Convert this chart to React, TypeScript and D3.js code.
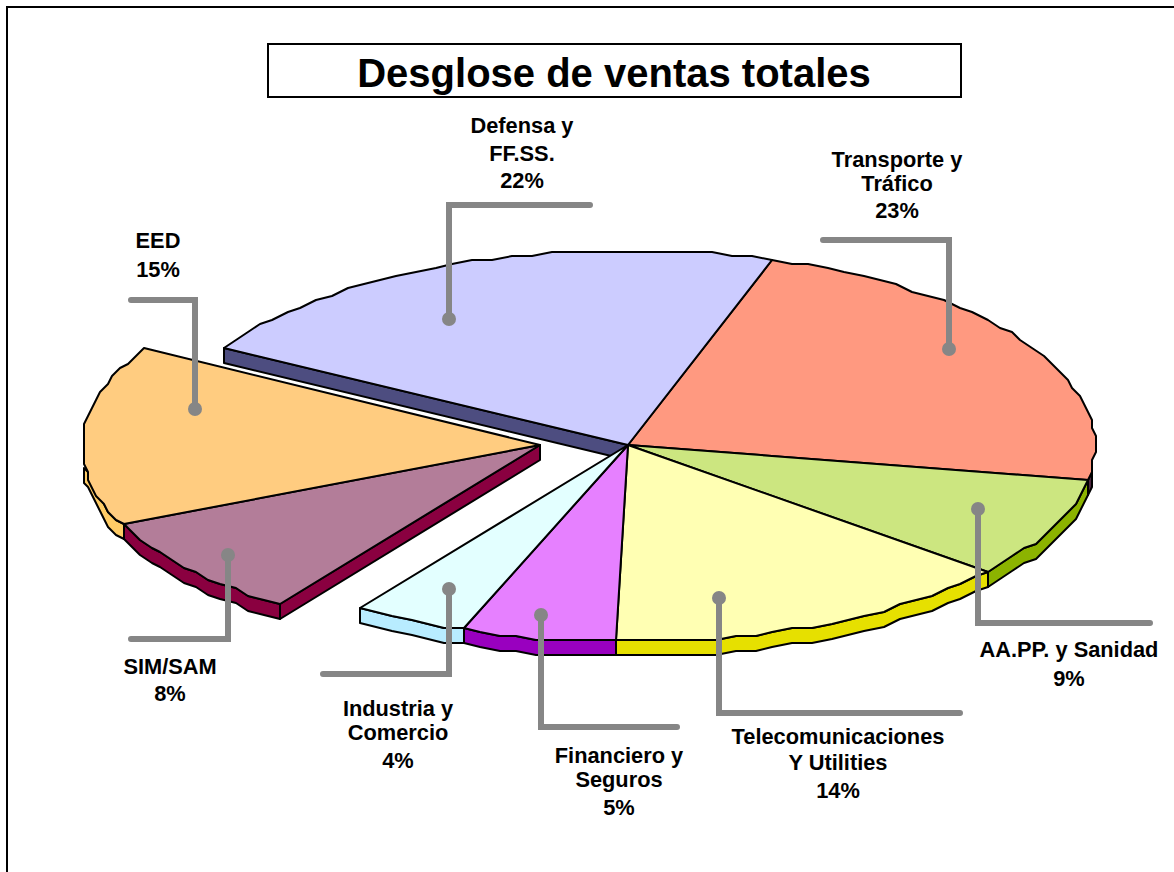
import React from 'react';
import * as d3 from 'd3';

// Data
const categories = [
  'Transporte',
  'AA.PP.',
  'Telecom',
  'Financiero',
  'Industria',
  'SIM/SAM',
  'EED',
  'Defensa',
];
const shares = [22.7, 8.3, 14.5, 5.3, 3.9, 8.5, 15.3, 21.5];
const labelLines = [
  ['Transporte y', 'Tráfico', '23%'],
  ['AA.PP. y Sanidad', '9%'],
  ['Telecomunicaciones', 'Y Utilities', '14%'],
  ['Financiero y', 'Seguros', '5%'],
  ['Industria y', 'Comercio', '4%'],
  ['SIM/SAM', '8%'],
  ['EED', '15%'],
  ['Defensa y', 'FF.SS.', '22%'],
];
const titleText = 'Desglose de ventas totales';

// Styling, by category
const topColors = ['#ff9980', '#cce680', '#ffffb3', '#e680ff', '#e3ffff', '#b37d99', '#ffcc80', '#ccccff'];
const rimColors = ['#4d2640', '#8cb300', '#e6e000', '#9900bf', '#b8ecff', '#8a0040', '#ffcc66', '#4d4d80'];
const exploded = ['SIM/SAM', 'EED'];

// Callout layout: label centre x, baselines, leader path
const labelX = [897, 1069, 838, 619, 398, 170, 158, 522];
const labelY = [
  [167, 191, 218],
  [657, 686],
  [744, 770, 798],
  [763, 787, 815],
  [716, 740, 768],
  [674, 701],
  [248, 277],
  [133, 161, 188],
];
const leaders: [number, number][][] = [
  [[823, 240], [949, 240], [949, 349]],
  [[1150, 623], [978, 623], [978, 509]],
  [[960, 713], [719, 713], [719, 598]],
  [[677, 727], [541, 727], [541, 615]],
  [[323, 674], [449, 674], [449, 589]],
  [[131, 639], [228, 639], [228, 555]],
  [[131, 300], [195, 300], [195, 409]],
  [[590, 205], [449, 205], [449, 319]],
];

const width = 1174;
const height = 872;
const cx = 628;
const cy = 446;
const rx = 467;
const ry = 196;
const depth = 15;
const explodeX = -88;
const explodeRadius = 0.98;
const gridStep = 4;
const rad = Math.PI / 180;

type Pt = [number, number];

const pie = d3
  .pie<number>()
  .sort(null)
  .startAngle(17.9 * rad)
  .endAngle(377.9 * rad);

const outline = d3.line<Pt>().curve(d3.curveLinear);

// Project a polar point on to the tilted disc, snapped to a coarse grid
const project = (angle: number, r: number, dx: number): Pt => {
  const [px, py] = d3.pointRadial(angle, r);
  return [
    Math.round((cx + dx + rx * px) / gridStep) * gridStep,
    Math.round((cy + ry * py) / gridStep) * gridStep,
  ];
};

const arcPoints = (a0: number, a1: number, dx: number, r: number): Pt[] => {
  const steps = Math.max(2, Math.ceil((a1 - a0) / (2.5 * rad)));
  return d3.range(steps + 1).map(i => project(a0 + ((a1 - a0) * i) / steps, r, dx));
};

const drop = (pts: Pt[]): Pt[] => pts.map(([x, y]) => [x, y + depth] as Pt);

export default function App() {
  const slices = pie(shares);

  const parts = slices.map((s, i) => {
    const name = categories[i];
    const isOut = exploded.includes(name);
    const dx = isOut ? explodeX : 0;
    const r = isOut ? explodeRadius : 1;
    const apex: Pt = [cx + dx, cy - 1];
    const rimStart = Math.max(s.startAngle, 94 * rad);
    const rimEnd = Math.min(s.endAngle, 264 * rad);
    const rimPts = rimEnd > rimStart ? arcPoints(rimStart, rimEnd, dx, r) : [];
    const rim = rimPts.length ? [...rimPts, ...drop(rimPts).reverse()] : null;
    // the straight side shows only where it faces the viewer
    const wallEnd = project(s.startAngle, r, dx);
    const wall =
      name === 'Defensa' || name === 'SIM/SAM'
        ? [apex, wallEnd, ...drop([wallEnd]), ...drop([apex])]
        : null;
    return { i, apex, rim, wall, top: [apex, ...arcPoints(s.startAngle, s.endAngle, dx, r)] };
  });

  const edge = { stroke: '#000', strokeWidth: 2, strokeLinejoin: 'round' as const };

  return (
    <svg
      width={width}
      height={height}
      style={{ position: 'absolute', left: 0, top: 0, background: '#fff' }}
      fontFamily="'Liberation Sans', Arial, sans-serif"
    >
      <rect x={7} y={7} width={width + 20} height={height + 20} fill="#fff" stroke="#000" strokeWidth={2} />

      <g>
        {parts.map(p =>
          p.wall ? <path key={`w${p.i}`} d={outline(p.wall) + 'Z'} fill={rimColors[p.i]} {...edge} /> : null
        )}
        {parts.map(p =>
          p.rim ? <path key={`r${p.i}`} d={outline(p.rim) + 'Z'} fill={rimColors[p.i]} {...edge} /> : null
        )}
        {parts.map(p => (
          <path key={`t${p.i}`} d={outline(p.top) + 'Z'} fill={topColors[p.i]} {...edge} />
        ))}
      </g>

      <g fill="none" stroke="#868686" strokeWidth={6}>
        {leaders.map((pts, i) => (
          <g key={i}>
            <path d={outline(pts) ?? ''} strokeLinecap="round" strokeLinejoin="miter" />
            <circle cx={pts[2][0]} cy={pts[2][1]} r={7} fill="#868686" stroke="none" />
          </g>
        ))}
      </g>

      <g fontSize={21.8} fontWeight="bold" textAnchor="middle" fill="#000">
        {labelLines.map((lines, i) =>
          lines.map((line, j) => (
            <text key={`${i}-${j}`} x={labelX[i]} y={labelY[i][j]}>
              {line}
            </text>
          ))
        )}
      </g>

      <rect x={268} y={44} width={693} height={53} fill="#fff" stroke="#000" strokeWidth={2} />
      <text x={614} y={87} textAnchor="middle" fontSize={40} fontWeight="bold" fill="#000">
        {titleText}
      </text>
    </svg>
  );
}
